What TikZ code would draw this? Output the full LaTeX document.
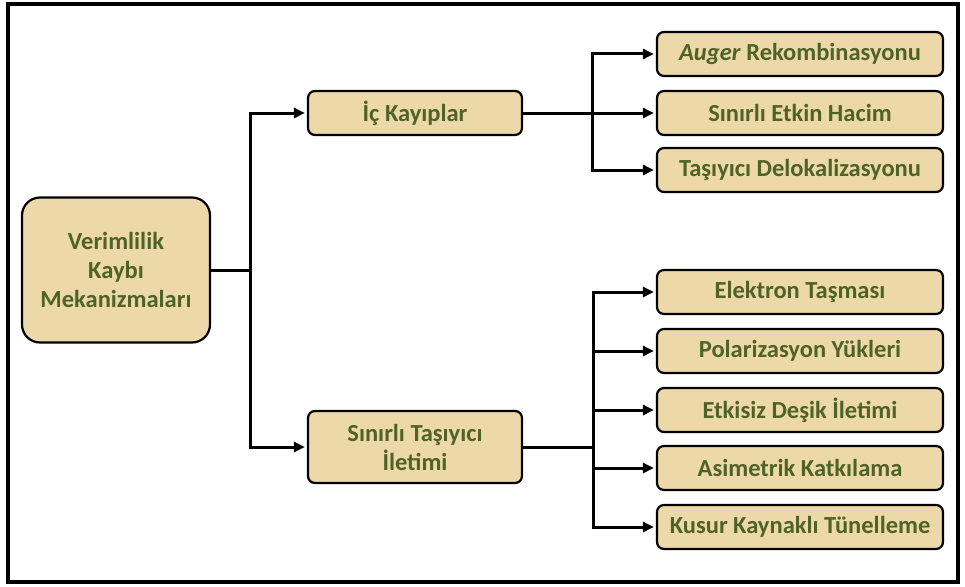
\documentclass[tikz,border=0pt]{standalone}
\usepackage{fontspec}
\setmainfont{Carlito}
\usetikzlibrary{arrows.meta,positioning,calc}

\definecolor{papyrus}{RGB}{236,216,168}
\definecolor{leafgreen}{RGB}{79,98,40}

\tikzset{
  box/.style={draw=black, line width=2.2pt, rounded corners=7pt, fill=papyrus,
    text=leafgreen, font=\bfseries\fontsize{24.5}{29}\selectfont, align=center,
    inner sep=0pt},
  leafbox/.style={box, minimum width=286pt, minimum height=44pt},
  link/.style={line width=3pt, -{Triangle[length=11pt,width=10pt]}, shorten >=2pt},
  bus/.style={line width=3pt},
}

\begin{document}
\begin{tikzpicture}[x=1pt,y=-1pt]
    \useasboundingbox (0,0) rectangle (965,586);
    \draw[line width=3.5pt] (8,4) rectangle (958,582);

    % Root and the two groups
    \node[box, minimum width=188pt, minimum height=145pt, rounded corners=18pt] (loss) at (116,270) {Verimlilik\\Kaybı\\Mekanizmaları};
    \node[box, minimum width=214pt, minimum height=44pt] (inner) at (415,113) {İç Kayıplar};
    \node[box, minimum width=214pt, minimum height=72pt] (confine) at (415,447) {Sınırlı Taşıyıcı\\İletimi};

    % Internal losses
    \node[leafbox] (auger) at (800,54) {\textit{Auger} Rekombinasyonu};
    \node[leafbox] (volume) at (800,113) {Sınırlı Etkin Hacim};
    \node[leafbox] (deloc) at (800,170) {Taşıyıcı Delokalizasyonu};

    % Carrier confinement
    \node[leafbox] (overflow) at (800,292) {Elektron Taşması};
    \node[leafbox] (polar) at (800,351) {Polarizasyon Yükleri};
    \node[leafbox] (hole) at (800,410) {Etkisiz Deşik İletimi};
    \node[leafbox] (asym) at (800,468) {Asimetrik Katkılama};
    \node[leafbox] (tunnel) at (800,527) {Kusur Kaynaklı Tünelleme};

    % Connectors
    \coordinate (split) at (250,270);
    \draw[bus] (loss.east) -- (split);
    \draw[link] (split) |- (inner.west);
    \draw[link] (split) |- (confine.west);

    \coordinate (tbus) at (592,113);
    \draw[link] (inner.east) -- (volume.west);
    \draw[link] (tbus) |- (auger.west);
    \draw[link] (tbus) |- (deloc.west);

    \coordinate (bbus) at (593,447);
    \draw[bus] (confine.east) -- (bbus);
    \foreach \leaf in {overflow,polar,hole,asym,tunnel}
        \draw[link] (bbus) |- (\leaf.west);
\end{tikzpicture}
\end{document}
